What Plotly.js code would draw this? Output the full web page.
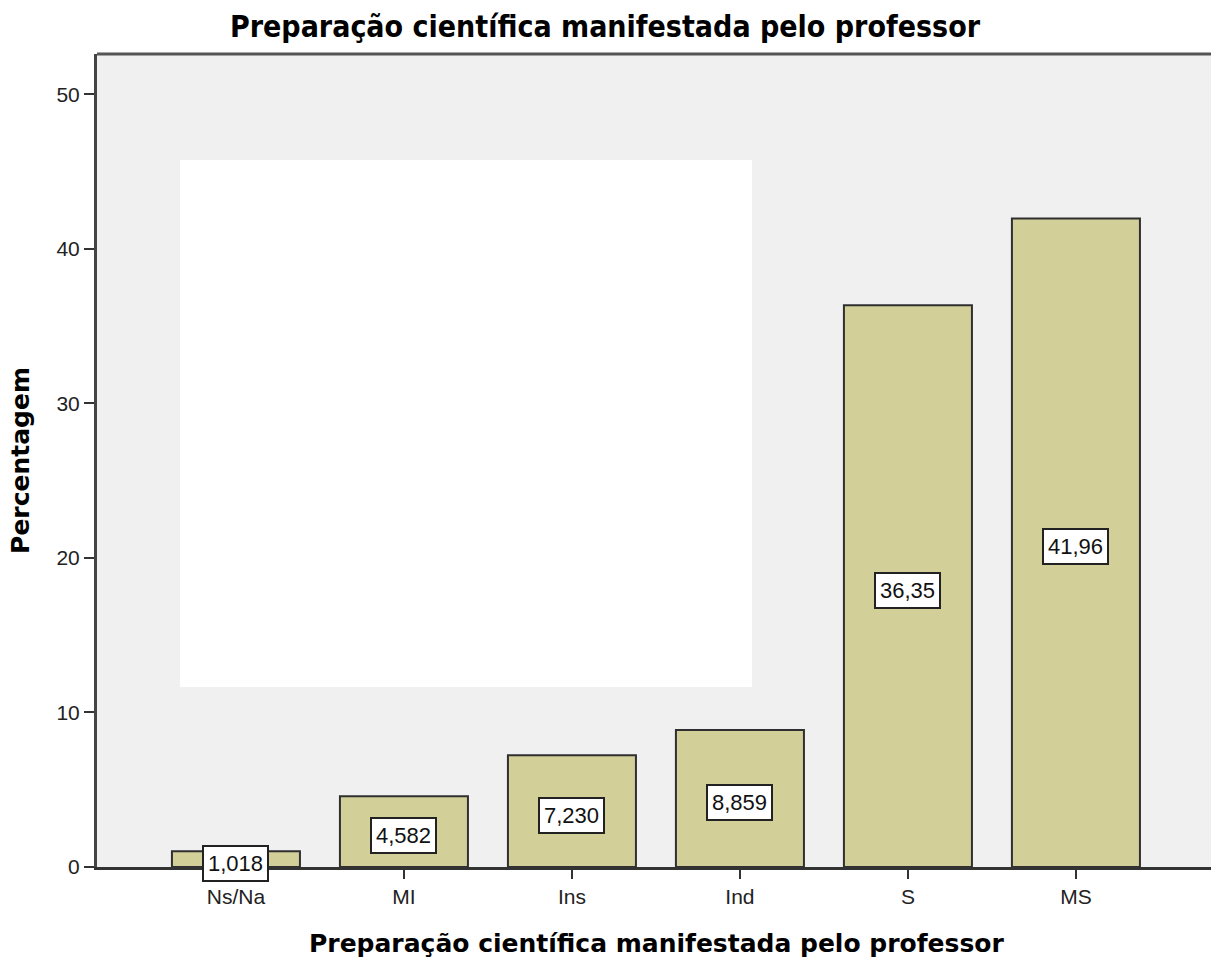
<!DOCTYPE html>
<html>
<head>
<meta charset="utf-8">
<script src="https://cdn.plot.ly/plotly-3.0.1.min.js"></script>
<style>html,body{margin:0;padding:0;background:#fff;}#chart{width:1211px;height:959px;}</style>
</head>
<body>
<div id="chart"></div>
<script>
const categories = ["Ns/Na", "MI", "Ins", "Ind", "S", "MS"];
const percentages = [1.018, 4.582, 7.230, 8.859, 36.35, 41.96];
const valueLabels = ["1,018", "4,582", "7,230", "8,859", "36,35", "41,96"];
const yTickValues = [0, 10, 20, 30, 40, 50];
const titleText = "Preparação científica manifestada pelo professor";
const xTitleText = "Preparação científica manifestada pelo professor";
const yTitleText = "Percentagem";

const trace = {
  type: "bar",
  x: categories,
  y: percentages,
  width: 0.762,
  marker: { color: "#d3cf98", line: { color: "#2f2f2f", width: 2 } },
  hoverinfo: "none"
};

const annotations = categories.map((c, i) => ({
  x: c, y: percentages[i] / 2, xref: "x", yref: "y",
  text: valueLabels[i], showarrow: false, yshift: -4,
  font: { family: "Liberation Sans, Arial, sans-serif", size: 22, color: "#111" },
  bgcolor: "#ffffff", bordercolor: "#222", borderwidth: 2, borderpad: 4
}));

annotations.push({
  text: xTitleText, showarrow: false,
  xref: "paper", yref: "paper", x: 0.502, y: 0, xanchor: "center", yanchor: "middle",
  yshift: -76,
  font: { family: "DejaVu Sans, Verdana, sans-serif", size: 25, color: "#000", weight: "bold" }
});

const layout = {
  width: 1211, height: 959,
  margin: { l: 97, r: 0, t: 54, b: 92 },
  paper_bgcolor: "#ffffff",
  plot_bgcolor: "#f0f0f0",
  showlegend: false,
  title: {
    text: titleText,
    font: { family: "DejaVu Sans Condensed, Liberation Sans Narrow, sans-serif", size: 30, color: "#000", weight: "bold" },
    x: 0.456, xanchor: "center", y: 0.972, yanchor: "middle", xref: "paper"
  },
  xaxis: {
    type: "category",
    range: [-0.827, 5.804],
    showgrid: false, zeroline: false,
    showline: true, linecolor: "#333", linewidth: 2.5,
    ticks: "outside", ticklen: 9, tickwidth: 2, tickcolor: "#333",
    tickfont: { family: "Liberation Sans, Arial, sans-serif", size: 21, color: "#222" }
  },
  yaxis: {
    range: [0, 52.6],
    tickvals: yTickValues,
    showgrid: false, zeroline: false,
    showline: true, linecolor: "#444", linewidth: 3,
    ticks: "outside", ticklen: 10, tickwidth: 2, tickcolor: "#333",
    tickfont: { family: "Liberation Sans, Arial, sans-serif", size: 21, color: "#222" },
    title: {
      text: yTitleText,
      font: { family: "DejaVu Sans, Verdana, sans-serif", size: 25, color: "#000", weight: "bold" },
      standoff: 20
    }
  },
  shapes: [
    { type: "line", xref: "paper", yref: "paper", x0: 0, x1: 1, y0: 1, y1: 1,
      line: { color: "#555", width: 3 } },
    { type: "rect", xref: "paper", yref: "paper", x0: 0.0745, x1: 0.588, y0: 0.2214, y1: 0.8696,
      fillcolor: "#ffffff", line: { width: 0 }, layer: "above" }
  ],
  annotations: annotations
};

Plotly.newPlot("chart", [trace], layout, { displayModeBar: false, staticPlot: true });
</script>
</body>
</html>
